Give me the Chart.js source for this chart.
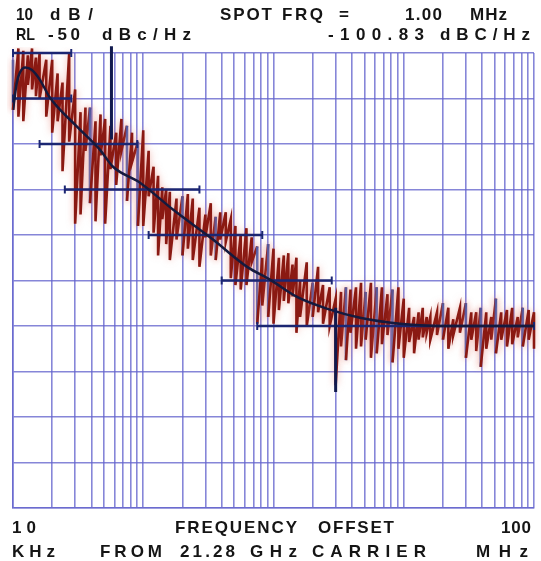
<!DOCTYPE html>
<html>
<head>
<meta charset="utf-8">
<script src="https://cdn.jsdelivr.net/npm/chart.js@4.4.1/dist/chart.umd.min.js"></script>
<style>
  html, body { margin: 0; padding: 0; background: #fff; }
  #wrap { position: relative; width: 541px; height: 561px; }
  #wrap span {
    position: absolute;
    font: bold 17px "Liberation Sans", Arial, sans-serif;
    line-height: 17px;
    color: #151515;
    white-space: pre;
    transform-origin: 0 50%;
  }
</style>
</head>
<body>
<div id="wrap"><canvas id="plot" width="541" height="561"></canvas></div>
<script>
// ==============================
// DATA (offset in kHz, level in dBc/Hz)
// ==============================
const strokeKHz = [
  10, 11, 12, 13, 14, 15, 16, 18, 20, 22, 24, 27, 30, 33, 36, 39, 43, 47, 51, 56, 62, 68, 75, 82, 91,
  100, 110, 120, 130, 140, 150, 160, 180, 200, 220, 240, 270, 300, 330, 360, 390, 430, 470, 510, 560, 620, 680, 750, 820, 910,
  1000, 1100, 1200, 1300, 1400, 1500, 1600, 1800, 2000, 2200, 2400, 2700, 3000, 3300, 3600, 3900, 4300, 4700, 5100, 5600, 6200, 6800, 7500, 8200, 9100,
  10000, 11000, 12000, 13000, 14000, 15000, 16000, 18000, 20000, 22000, 24000, 27000, 30000, 33000, 36000, 39000, 43000, 47000, 51000, 56000, 62000, 68000, 75000, 82000, 91000,
  100000
];
const strokeTop = [
  -51.5, -49, -49.5, -50.5, -49, -51, -50, -51.5, -51.5, -54.5, -56.5, -50, -58, -63, -62, -62, -65, -63.5, -64.5, -66, -67.5, -64.5, -66, -67.5, -69.5,
  -67, -71.5, -75, -77, -79.5, -80, -80.5, -82, -81.5, -81, -82, -84, -85.5, -83, -86, -85, -85, -86.5, -88, -90, -88.5, -90.5, -92.5, -95, -92,
  -93, -95, -94.5, -94, -96.5, -95, -100, -96, -100.5, -97, -101, -101.5, -104, -102.5, -101.5, -102, -101.5, -100.5, -102.5, -100.5, -101.5, -101.5, -103, -102, -101.5,
  -104, -106, -108, -107, -106, -108, -108, -107, -105, -106, -108.5, -106, -105, -107, -107, -106, -107, -108, -104, -107, -106.5, -106, -108, -106, -106.5,
  -107
];
const strokeBottom = [
  -62.5, -64, -65, -57, -58, -59.5, -60, -64, -67.5, -65, -76, -69.5, -87.5, -85.5, -71.5, -83, -87, -72.5, -87.5, -75.5, -79, -71.5, -82.5, -74, -88,
  -88, -81.5, -89.5, -94.5, -86.5, -92, -95.5, -91, -94.5, -93, -95.5, -97, -90.5, -94.5, -95.5, -91, -91.5, -99.5, -101, -102, -101, -96, -109.5, -105.5, -108,
  -109.5, -106.5, -104.5, -105, -103.5, -111.5, -108, -110, -108, -107, -109.5, -110, -123, -114.5, -117.5, -111.5, -115, -114.5, -113, -117, -116, -114, -112, -118, -115,
  -117, -113.5, -116, -113, -112.5, -111.5, -113, -112, -113, -115, -112, -111.5, -117, -113, -115.5, -119, -115, -113, -116, -113, -114.5, -114, -112.5, -114.5, -113,
  -115
];
// strokes of the second (blue) sweep
const blueStrokeKHz = [10, 39, 75, 91, 200, 360, 750, 910, 2000, 3600, 5100, 6200, 8200, 20000, 30000, 39000, 51000, 82000];

// smoothed noise curve
const trendKHz = [10, 10.7, 11.3, 12.4, 13.9, 16.1, 19.2, 31, 46.6, 58.6, 94.4, 169, 343, 627, 940, 1514, 2716, 4613, 9350, 22650, 100000];
const trendDb  = [-62.5, -56.5, -54.3, -53.2, -53.7, -55.9, -59.8, -66.2, -71.3, -75, -78.5, -84.4, -91, -97, -99.8, -103.6, -106.4, -108.2, -109.5, -110, -110];

// per-level bars
const levelDb   = [-50, -60, -70, -80, -90, -100, -110];
const levelFrom = [10, 10, 16, 25, 110, 400, 750];
const levelTo   = [28, 28, 90, 270, 820, 2800, 100000];

// spur markers
const spurKHz    = [57, 3000];
const spurTop    = [-48.5, -106];
const spurBottom = [-69, -124.5];

// vertical grid: 1..9 per decade
const xGridKHz = [
  10, 20, 30, 40, 50, 60, 70, 80, 90,
  100, 200, 300, 400, 500, 600, 700, 800, 900,
  1000, 2000, 3000, 4000, 5000, 6000, 7000, 8000, 9000,
  10000, 20000, 30000, 40000, 50000, 60000, 70000, 80000, 90000,
  100000
];

// header / footer words: text, left, right, baseline
const words = [
  ['10', 16, 33, 20], ['dB/', 50, 93, 20], ['SPOT', 220, 272, 20], ['FRQ', 282, 323, 20],
  ['=', 339, 354, 20], ['1.00', 405, 442, 20], ['MHz', 470, 507, 20],
  ['RL', 16, 35, 40.7], ['-50', 48, 80, 40.7], ['dBc/Hz', 102, 191, 40.7],
  ['-100.83', 328, 424, 40.7], ['dBC/Hz', 440, 530, 40.7],
  ['10', 12, 36, 533], ['FREQUENCY', 175, 297, 533], ['OFFSET', 318, 394, 533], ['100', 501, 531, 533],
  ['KHz', 12, 55, 557], ['FROM', 100, 162, 557], ['21.28', 180, 235, 557], ['GHz', 250, 297, 557],
  ['CARRIER', 312, 426, 557], ['MHz', 476, 528, 557]
];

// ==============================
// TEXT
// ==============================
const wrap = document.getElementById('wrap');
const meas = document.createElement('canvas').getContext('2d');
meas.font = 'bold 17px "Liberation Sans", Arial, sans-serif';
words.forEach(([t, x0, x1, base]) => {
  const s = document.createElement('span');
  s.textContent = t;
  const w = meas.measureText(t).width;
  const room = x1 - x0;
  if (w > room) {
    // squeeze words that are wider than their slot
    s.style.transform = 'scaleX(' + (room / w) + ')';
  } else if (t.length > 1) {
    s.style.letterSpacing = ((room - w) / (t.length - 1)) + 'px';
  }
  s.style.left = x0 + 'px';
  s.style.top = (base - 14.4) + 'px';
  wrap.appendChild(s);
});

// ==============================
// CHART
// ==============================
const GRID = 'rgba(100,100,205,0.78)';
const RED = '#8a1912';
const BLUE = 'rgba(78,92,168,0.9)';
const NAVY = '#1b2672';

// each stroke runs top -> bottom, then jumps to the next top
const traceData = [];
strokeKHz.forEach((f, i) => {
  traceData.push({ x: f, y: strokeTop[i] }, { x: f, y: strokeBottom[i] });
});
const blueSet = new Set(blueStrokeKHz);

const levelSets = levelDb.map((db, i) => ({
  data: [{ x: levelFrom[i], y: db }, { x: levelTo[i], y: db }],
  borderColor: NAVY,
  borderWidth: 2.5,
  pointStyle: 'line',
  pointRotation: 90,
  pointRadius: 4,
  pointBorderWidth: 2,
  pointBorderColor: NAVY,
  clip: 4,
  order: 2
}));

const spurSets = spurKHz.map((f, i) => ({
  data: [{ x: f, y: spurTop[i] }, { x: f, y: spurBottom[i] }],
  borderColor: '#111a4e',
  borderWidth: 3,
  pointRadius: 0,
  clip: 8,
  order: 0
}));

// soft red halo around the measured trace
const glow = {
  id: 'glow',
  beforeDatasetDraw(chart, args) {
    if (args.index !== 0) return;
    chart.ctx.save();
    chart.ctx.shadowColor = 'rgba(225,110,95,0.55)';
    chart.ctx.shadowBlur = 7;
  },
  afterDatasetDraw(chart, args) {
    if (args.index === 0) chart.ctx.restore();
  }
};

new Chart(document.getElementById('plot'), {
  type: 'line',
  data: {
    datasets: [
      {
        data: traceData,
        borderColor: RED,
        borderWidth: 2.6,
        pointRadius: 0,
        tension: 0,
        clip: 6,
        order: 3,
        segment: {
          borderColor: ctx => {
            const s = Math.floor(ctx.p0DataIndex / 2);
            if (ctx.p0DataIndex % 2 === 0 && blueSet.has(strokeKHz[s])) return BLUE;
            return undefined;
          }
        }
      },
      ...levelSets,
      {
        data: trendKHz.map((f, i) => ({ x: f, y: trendDb[i] })),
        borderColor: '#151a3e',
        borderWidth: 2.5,
        pointRadius: 0,
        cubicInterpolationMode: 'monotone',
        order: 1
      },
      ...spurSets
    ]
  },
  options: {
    responsive: false,
    animation: false,
    devicePixelRatio: 1,
    layout: { padding: { left: 13, right: 7, top: 53, bottom: 53 } },
    plugins: { legend: { display: false }, tooltip: { enabled: false } },
    scales: {
      x: {
        type: 'logarithmic',
        min: 10,
        max: 100000,
        afterBuildTicks: scale => { scale.ticks = xGridKHz.map(v => ({ value: v })); },
        ticks: { display: false },
        grid: { color: GRID, lineWidth: 1.6, drawTicks: false },
        border: { display: true, color: GRID, width: 1.6 }
      },
      y: {
        type: 'linear',
        min: -150,
        max: -50,
        ticks: { display: false, stepSize: 10 },
        grid: { color: GRID, lineWidth: 1.6, drawTicks: false },
        border: { display: true, color: GRID, width: 1.6 }
      }
    }
  },
  plugins: [glow]
});
</script>
</body>
</html>
